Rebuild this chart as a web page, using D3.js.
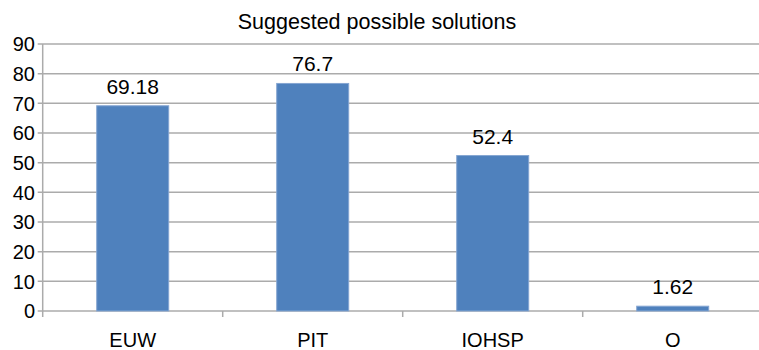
<!DOCTYPE html>
<html>
<head>
<meta charset="utf-8">
<script src="https://cdn.jsdelivr.net/npm/d3@7"></script>
<style>
  html, body { margin: 0; padding: 0; background: #fff; }
  svg { display: block; }
  text { font-family: "Liberation Sans", Arial, sans-serif; fill: #000; }
</style>
</head>
<body>
<svg id="chart" width="759" height="350"></svg>
<script>
// Chart data
const categories = ["EUW", "PIT", "IOHSP", "O"];
const values = [69.18, 76.7, 52.4, 1.62];
const valueLabels = ["69.18", "76.7", "52.4", "1.62"];
const yTicks = [0, 10, 20, 30, 40, 50, 60, 70, 80, 90];
const title = "Suggested possible solutions";

const svg = d3.select("#chart");
const plot = { left: 42.7, right: 762.7, top: 44, bottom: 311 };

const x = d3.scaleBand()
  .domain(categories)
  .range([plot.left, plot.right])
  .paddingInner(0)
  .paddingOuter(0);

const y = d3.scaleLinear()
  .domain([0, 90])
  .range([plot.bottom, plot.top]);

// Horizontal gridlines
svg.append("g")
  .selectAll("line")
  .data(yTicks)
  .join("line")
  .attr("x1", plot.left - 5)
  .attr("x2", plot.right)
  .attr("y1", d => y(d))
  .attr("y2", d => y(d))
  .attr("stroke", "#ababab")
  .attr("stroke-width", 1.5);

// Vertical axis line
svg.append("line")
  .attr("x1", plot.left).attr("x2", plot.left)
  .attr("y1", plot.top).attr("y2", plot.bottom + 6)
  .attr("stroke", "#ababab")
  .attr("stroke-width", 1.5);

// Category separator ticks
svg.append("g")
  .selectAll("line")
  .data(categories.slice(1))
  .join("line")
  .attr("x1", d => x(d)).attr("x2", d => x(d))
  .attr("y1", plot.bottom).attr("y2", plot.bottom + 6)
  .attr("stroke", "#ababab")
  .attr("stroke-width", 1.5);

// Y tick labels
svg.append("g")
  .selectAll("text")
  .data(yTicks)
  .join("text")
  .attr("x", 35)
  .attr("y", d => y(d))
  .attr("dy", "0.36em")
  .attr("text-anchor", "end")
  .style("font-size", "20px")
  .text(d => d);

// Bars
const barW = x.bandwidth() * 0.4;
svg.append("g")
  .selectAll("rect")
  .data(values)
  .join("rect")
  .attr("x", (d, i) => x(categories[i]) + (x.bandwidth() - barW) / 2)
  .attr("y", d => y(d))
  .attr("width", barW)
  .attr("height", d => y(0) - y(d))
  .attr("fill", "#4f81bd")
  .attr("stroke", "#85a6d2")
  .attr("stroke-width", 1);

// Value labels
svg.append("g")
  .selectAll("text")
  .data(values)
  .join("text")
  .attr("x", (d, i) => x(categories[i]) + x.bandwidth() / 2)
  .attr("y", d => y(d) - 12)
  .attr("text-anchor", "middle")
  .style("font-size", "21px")
  .text((d, i) => valueLabels[i]);

// Category labels
svg.append("g")
  .selectAll("text")
  .data(categories)
  .join("text")
  .attr("x", d => x(d) + x.bandwidth() / 2)
  .attr("y", 346.5)
  .attr("text-anchor", "middle")
  .style("font-size", "20px")
  .text(d => d);

// Title
svg.append("text")
  .attr("x", 377)
  .attr("y", 28.5)
  .attr("text-anchor", "middle")
  .style("font-size", "21.5px")
  .text(title);
</script>
</body>
</html>
